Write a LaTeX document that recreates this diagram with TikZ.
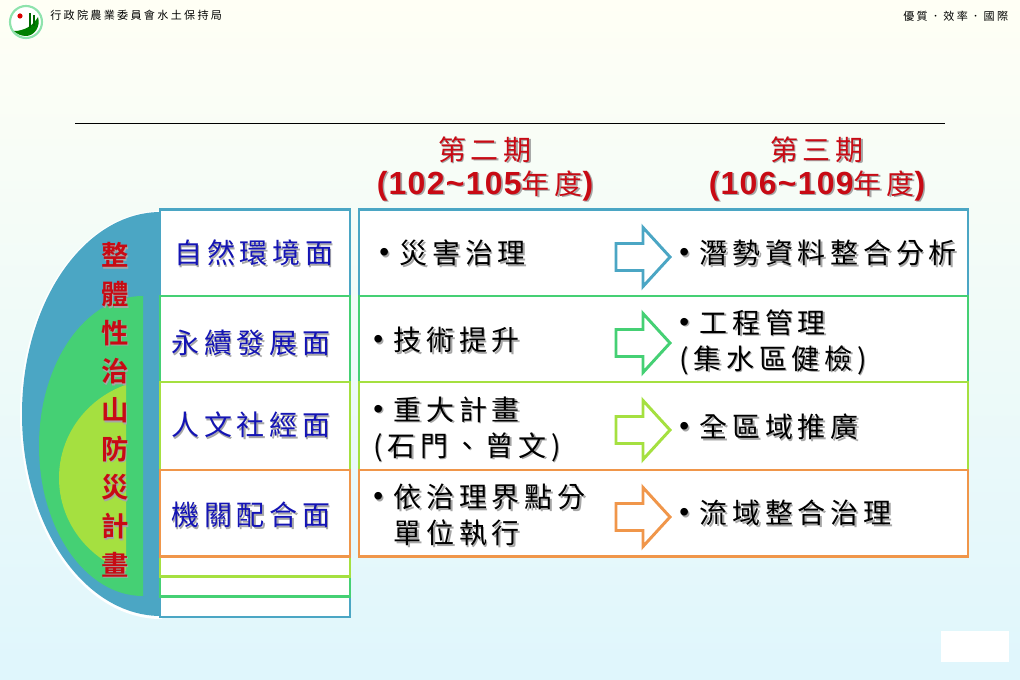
\documentclass[tikz,border=0pt]{standalone}
\usepackage{fontspec}
\setmainfont{Liberation Sans}
\newfontfamily\cjk[LetterSpace=17]{Noto Sans CJK TC}
\newfontfamily\cjkb[LetterSpace=17]{Noto Sans CJK TC Bold}
\newfontfamily\cjkh[LetterSpace=21]{Noto Sans CJK TC}
\newfontfamily\latbold[LetterSpace=4]{Liberation Sans Bold}
\newfontfamily\latn{Liberation Sans}
\definecolor{cblue}{HTML}{4BA6C4}
\definecolor{cgreen}{HTML}{45D074}
\definecolor{clime}{HTML}{A5E040}
\definecolor{corange}{HTML}{F0964A}
\definecolor{cred}{HTML}{C80A14}
\definecolor{cnavy}{HTML}{1414B4}
\definecolor{bgtop}{HTML}{FFFFF5}
\definecolor{bgmid}{HTML}{F3FCF6}
\definecolor{bgbot}{HTML}{DFF6FC}
\newcommand\shd[1]{\leavevmode\rlap{\raisebox{-1.2pt}{\kern1.2pt\textcolor{black!35}{#1}}}#1}
\newcommand\bul{\makebox[15.3pt][l]{\raisebox{1.6pt}{{\latn •}}}}
\tikzset{
  x=.75pt,y=-.75pt,
  boxa/.style={draw=#1,line width=2.2pt,fill=white},
  barrow/.style={draw=#1,line width=2.2pt,fill=white,line join=miter},
  body/.style={anchor=west,inner sep=0pt,align=left,font=\cjk\fontsize{21}{27}\selectfont,text=black},
  face/.style={anchor=west,inner sep=0pt,font=\cjk\fontsize{21}{27}\selectfont,text=cnavy},
  title/.style={anchor=center,inner sep=0pt,align=center,text=cred,font=\cjk\fontsize{21}{25.5}\selectfont},
  head/.style={anchor=west,inner sep=0pt,font=\cjkh\fontsize{8.3}{10}\selectfont,text=black},
}
\newcommand\blockarrow[2]{%
  \draw[barrow=#1] (616,#2-13.5) -- (643,#2-13.5) -- (643,#2-29.5) -- (670,#2) -- (643,#2+29.5) -- (643,#2+13.5) -- (616,#2+13.5) -- cycle;}
\newcommand\latb[1]{{\latbold\fontsize{24}{25.5}\selectfont #1}}
\begin{document}
\begin{tikzpicture}
\useasboundingbox (0,0) rectangle (1020,680);
\shade[top color=bgtop,middle color=bgmid,bottom color=bgbot] (0,0) rectangle (1020,680);
% white plate bottom right
\fill[white] (941,631) rectangle (1009,662);
% logo
\fill[white] (26,22) circle (17.5);
\draw[cgreen!60!white,line width=1.6pt] (26,22) circle (16);
\fill[green!50!black] (14,31) .. controls (24,31) and (33,26) .. (38,17) .. controls (41,27) and (34,36) .. (26,36) .. controls (21,36) and (17,34) .. (14,31) -- cycle;
\fill[red!85!black] (20,16) circle (2.6);
\fill[green!40!black] (29,13) rectangle (31,28);
\fill[green!40!black] (33,15) rectangle (35,26);
\node[head] (orgname) at (50,15) {行政院農業委員會水土保持局};
\node[head] (motto) at (903,16.5) {優質．效率．國際};
% rule
\coordinate (ruleL) at (75,123.5);
\coordinate (ruleR) at (945,123.5);
\draw[black,line width=.7pt] (ruleL) -- (ruleR);
% half ellipses
\begin{scope}
\clip (0,0) rectangle (162,680);
\fill[white] (161,415) ellipse [x radius=141,y radius=204];
\fill[cblue] (161,414) ellipse [x radius=139,y radius=202];
\end{scope}
\begin{scope}
\clip (0,0) rectangle (143,680);
\fill[cgreen] (143,446) ellipse [x radius=104,y radius=150];
\end{scope}
\begin{scope}
\clip (0,0) rectangle (126,680);
\fill[clime] (160,478) ellipse [x radius=101,y radius=99];
\end{scope}
% left nested boxes
\draw[boxa=cblue] (160,209.5) rectangle (350,617);
\draw[boxa=cgreen] (160,296) rectangle (350,596.5);
\draw[boxa=clime] (160,382) rectangle (350,576.5);
\draw[boxa=corange] (160,470) rectangle (350,556.5);
% right rows
\draw[boxa=cblue] (359,209.5) rectangle (968,296);
\draw[boxa=cgreen] (359,296) rectangle (968,382);
\draw[boxa=clime] (359,382) rectangle (968,470);
\draw[boxa=corange] (359,470) rectangle (968,556.5);
% arrows
\blockarrow{cblue}{257}
\blockarrow{cgreen}{343}
\blockarrow{clime}{430}
\blockarrow{corange}{517}
% vertical title
\node[anchor=center,inner sep=0pt,align=center,text=cred,font=\cjkb\fontsize{20.5}{29}\selectfont] (plan) at (115,410.5)
 {\shd{整}\\\shd{體}\\\shd{性}\\\shd{治}\\\shd{山}\\\shd{防}\\\shd{災}\\\shd{計}\\\shd{畫}};
% column titles
\node[title] (p2) at (485,169.5) {\shd{第二期}\\\shd{\latb{(102\char`\~105}年度\latb{)}}};
\node[title] (p3) at (817,169.5) {\shd{第三期}\\\shd{\latb{(106\char`\~109}年度\latb{)}}};
% left labels
\node[face] (f1) at (174,254) {\shd{自然環境面}};
\node[face] (f2) at (171,344) {\shd{永續發展面}};
\node[face] (f3) at (171,426) {\shd{人文社經面}};
\node[face] (f4) at (171,516) {\shd{機關配合面}};
% body column 2
\node[body] (a1) at (379,254) {\shd{\bul 災害治理}};
\node[body] (a2) at (373,341) {\shd{\bul 技術提升}};
\node[body] (a3) at (373,430) {\shd{\bul 重大計畫}\\\shd{(石門、曾文)}};
\node[body] (a4) at (373,516) {\shd{\bul 依治理界點分}\\\shd{\hspace{15.3pt}單位執行}};
% body column 3
\node[body] (b1) at (679,254) {\shd{\bul 潛勢資料整合分析}};
\node[body] (b2) at (679,343) {\shd{\bul 工程管理}\\\shd{(集水區健檢)}};
\node[body] (b3) at (679,428) {\shd{\bul 全區域推廣}};
\node[body] (b4) at (679,514) {\shd{\bul 流域整合治理}};
\end{tikzpicture}
\end{document}
